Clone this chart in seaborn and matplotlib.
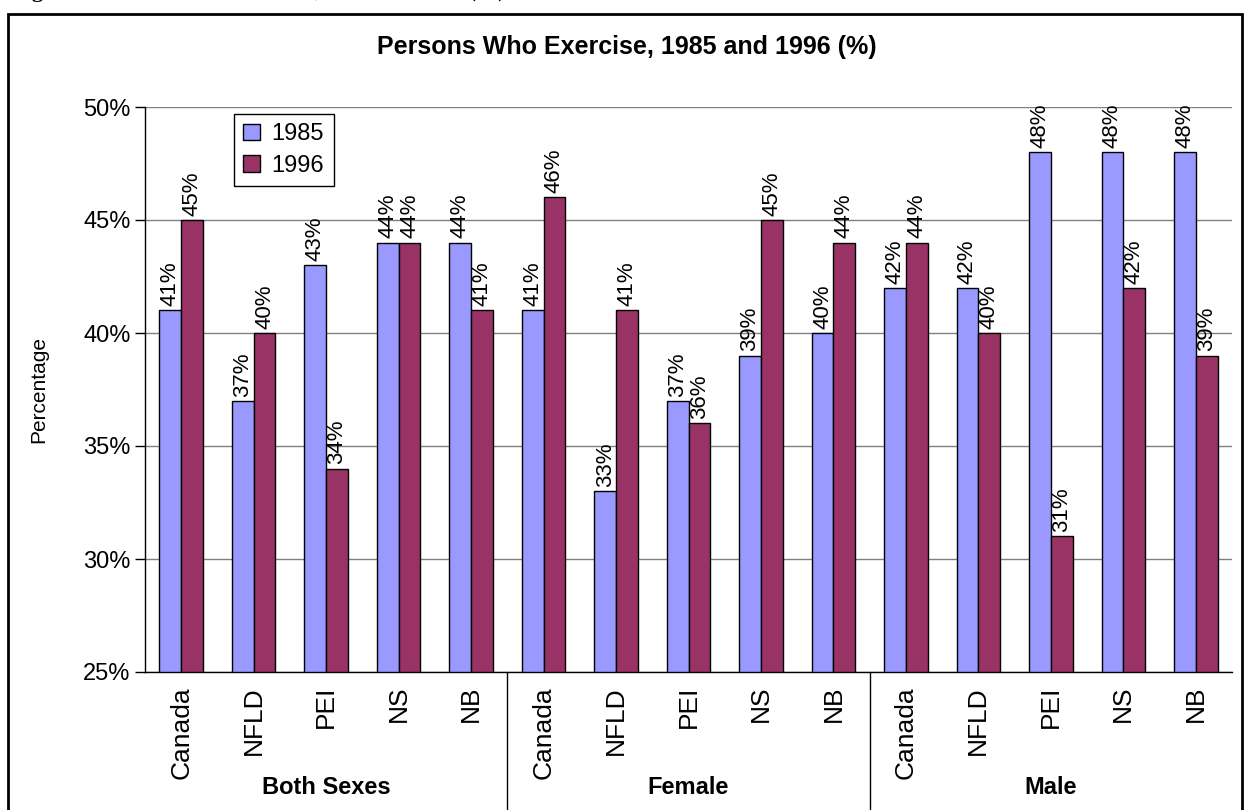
import numpy as np
import pandas as pd
import seaborn as sns
import matplotlib.pyplot as plt
import matplotlib.transforms as mtransforms
from matplotlib.patches import Rectangle

# datos
groups = ["Both Sexes", "Female", "Male"]
regions = ["Canada", "NFLD", "PEI", "NS", "NB"]
years = ["1985", "1996"]
pct_1985 = [41, 37, 43, 44, 44, 41, 33, 37, 39, 40, 42, 42, 48, 48, 48]
pct_1996 = [45, 40, 34, 44, 41, 46, 41, 36, 45, 44, 44, 40, 31, 42, 39]
yticks = [25, 30, 35, 40, 45, 50]

rows = []
for i, g in enumerate(groups):
    for j, r in enumerate(regions):
        k = i * len(regions) + j
        rows.append((f"{g}|{r}", r, years[0], pct_1985[k]))
        rows.append((f"{g}|{r}", r, years[1], pct_1996[k]))
df = pd.DataFrame(rows, columns=["key", "region", "year", "pct"])

sns.set_theme(style="white")
plt.rcParams["font.family"] = ["Liberation Sans", "DejaVu Sans"]
plt.rcParams["text.color"] = "black"
plt.rcParams["axes.labelcolor"] = "black"
plt.rcParams["xtick.color"] = "black"
plt.rcParams["ytick.color"] = "black"

fig = plt.figure(figsize=(12.5, 8.1), dpi=100)
ax = fig.add_axes([145 / 1250, 1 - 672 / 810, 1087 / 1250, 565 / 810])

colors = {"1985": "#9999FF", "1996": "#993366"}
sns.barplot(data=df, x="key", y="pct", hue="year", palette=colors, width=0.6,
            saturation=1, edgecolor="black", linewidth=1, ax=ax)

# etiquetas de valor
for cont in ax.containers:
    vals = [b.get_height() for b in cont]
    ax.bar_label(cont, labels=[f"{v:.0f}%" for v in vals], rotation=90,
                 padding=3, fontsize=16, color="black")

n = len(groups) * len(regions)
ax.set_xlim(-0.5, n - 0.5)
ax.set_ylim(25, 50)
ax.set_yticks(yticks)
ax.set_yticklabels([f"{v}%" for v in yticks], fontsize=17)
ax.set_xticks(range(n))
ax.set_xticklabels(regions * len(groups), rotation=90, fontsize=19, va="top")
ax.set_xticks(np.arange(-0.5, n, 1), minor=True)
ax.tick_params(axis="x", which="major", length=0, pad=10)
ax.tick_params(axis="x", which="minor", length=9, width=1, color="black", direction="out")
ax.tick_params(axis="y", length=7, width=1, color="black", direction="out", left=True)
ax.set_xlabel("")
ax.set_ylabel("Percentage", fontsize=15)
ax.yaxis.set_label_coords(-0.089, 0.5)

ax.grid(axis="y", color="#808080", linewidth=1)
ax.set_axisbelow(True)
for s in ["top", "right"]:
    ax.spines[s].set_visible(False)
for s in ["left", "bottom"]:
    ax.spines[s].set_color("black")
    ax.spines[s].set_linewidth(1)

# separadores de grupo y nombres de grupo
trans = mtransforms.blended_transform_factory(ax.transData, ax.transAxes)
for i in range(1, len(groups)):
    xs = i * len(regions) - 0.5
    ax.plot([xs, xs], [0, -0.4], color="black", lw=1, transform=trans, clip_on=False)
for i, g in enumerate(groups):
    ax.text(i * len(regions) + 2, -0.205, g, transform=trans, ha="center", va="center",
            fontsize=17, fontweight="bold")

# leyenda
handles = [Rectangle((0, 0), 1, 1, fc=colors[y], ec="black", lw=1) for y in years]
leg = ax.legend(handles, years, loc="upper left",
                bbox_to_anchor=((222 - 145) / 1087, (672 - 102) / 565),
                fontsize=17, frameon=True, fancybox=False, framealpha=1,
                handlelength=0.7, handleheight=0.7, handletextpad=0.5,
                borderpad=0.4, labelspacing=0.4)
leg.get_frame().set_edgecolor("black")
leg.get_frame().set_linewidth(1)

# titulo, marco y texto superior recortado (solo se ven los trazos bajos)
fig.text(627 / 1250, 1 - 47 / 810, "Persons Who Exercise, 1985 and 1996 (%)",
         ha="center", va="center", fontsize=18, fontweight="bold")
fig.patches.append(Rectangle((8 / 1250, -0.02), 1234 / 1250, 1 - 14 / 810 + 0.02,
                             transform=fig.transFigure, fill=False, ec="black", lw=2))
fig.text(12 / 1250, 1 + 2.5 / 810, "Figure 3: Persons Who Exercise, 1985 and 1996 (%)",
         ha="left", va="baseline", fontsize=16, fontweight="bold",
         family=["Liberation Serif", "DejaVu Serif"])

fig.savefig("out.png", dpi=100)
